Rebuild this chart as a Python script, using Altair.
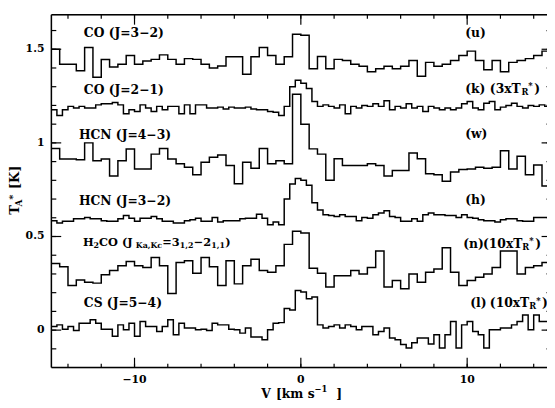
import altair as alt
import numpy as np
import pandas as pd

V_START = -15.0

# channel values (K), channel width 0.5 km/s
CO32 = [1.50, 1.42, 1.42, 1.385, 1.51, 1.35, 1.445, 1.405, 1.42, 1.467,
        1.42, 1.437, 1.446, 1.47, 1.446, 1.42, 1.45, 1.446, 1.42, 1.40,
        1.41, 1.46, 1.46, 1.366, 1.46, 1.51, 1.467, 1.42, 1.46, 1.58,
        1.575, 1.396, 1.461, 1.396, 1.446, 1.44, 1.42, 1.409, 1.38, 1.396,
        1.409, 1.396, 1.409, 1.44, 1.356, 1.43, 1.409, 1.42, 1.44, 1.467,
        1.49, 1.44, 1.39, 1.44, 1.38, 1.43, 1.44, 1.45, 1.467, 1.49]

HCN43 = [0.97, 0.914, 0.914, 0.91, 1.0, 0.905, 0.914, 0.823, 0.905, 0.967,
         0.86, 0.86, 0.94, 0.97, 0.914, 0.888, 0.87, 0.83, 0.896, 0.923,
         0.935, 0.879, 0.782, 0.896, 0.865, 0.97, 0.888, 0.905, 0.888, 1.26,
         1.10, 0.968, 0.94, 0.80, 0.915, 0.879, 0.879, 0.879, 0.888, 0.879,
         0.823, 0.853, 0.853, 0.946, 0.915, 0.835, 0.83, 0.795, 0.844, 0.858,
         0.86, 0.87, 0.865, 0.87, 0.958, 0.86, 0.928, 0.83, 0.882, 0.77]

H2CO = [0.356, 0.339, 0.238, 0.268, 0.256, 0.251, 0.296, 0.318, 0.344, 0.367,
        0.344, 0.335, 0.388, 0.344, 0.195, 0.361, 0.37, 0.304, 0.388, 0.339,
        0.238, 0.37, 0.247, 0.344, 0.379, 0.318, 0.309, 0.344, 0.458, 0.528,
        0.519, 0.33, 0.304, 0.23, 0.291, 0.291, 0.318, 0.30, 0.335, 0.423,
        0.23, 0.265, 0.221, 0.30, 0.256, 0.309, 0.326, 0.44, 0.309, 0.238,
        0.265, 0.282, 0.30, 0.335, 0.423, 0.423, 0.30, 0.335, 0.344, 0.361]

# channel width 1/3 km/s
CO21 = [1.177, 1.146, 1.177, 1.195, 1.186, 1.195, 1.186, 1.186, 1.203, 1.209,
        1.209, 1.216, 1.203, 1.156, 1.177, 1.168, 1.203, 1.186, 1.168, 1.195,
        1.177, 1.195, 1.195, 1.156, 1.203, 1.156, 1.203, 1.203, 1.186, 1.186,
        1.191, 1.181, 1.191, 1.186, 1.186, 1.191, 1.181, 1.177, 1.177, 1.168,
        1.163, 1.146, 1.195, 1.30, 1.335,
        1.318, 1.29, 1.221, 1.195, 1.203, 1.195, 1.186, 1.203, 1.156, 1.195,
        1.186, 1.20, 1.195, 1.209, 1.195, 1.225, 1.177, 1.195, 1.186, 1.209,
        1.186, 1.195, 1.168, 1.195, 1.186, 1.177, 1.186, 1.177, 1.186, 1.209,
        1.221, 1.186, 1.177, 1.212, 1.221, 1.177, 1.191, 1.20, 1.212, 1.195,
        1.186, 1.20, 1.195, 1.203, 1.195]

HCN32 = [0.584, 0.572, 0.581, 0.581, 0.595, 0.595, 0.602, 0.595, 0.595, 0.584,
         0.581, 0.581, 0.595, 0.612, 0.598, 0.581, 0.598, 0.598, 0.607, 0.595,
         0.581, 0.581, 0.572, 0.572, 0.584, 0.589, 0.598, 0.581, 0.581, 0.602,
         0.577, 0.584, 0.584, 0.584, 0.595, 0.598, 0.598, 0.619, 0.598, 0.563,
         0.577, 0.563, 0.70, 0.78, 0.81,
         0.80, 0.774, 0.68, 0.642, 0.616, 0.612, 0.607, 0.616, 0.607, 0.607,
         0.584, 0.602, 0.598, 0.616, 0.625, 0.637, 0.607, 0.602, 0.581, 0.581,
         0.595, 0.581, 0.616, 0.625, 0.616, 0.616, 0.612, 0.612, 0.602, 0.616,
         0.602, 0.598, 0.589, 0.584, 0.584, 0.577, 0.589, 0.595, 0.595, 0.584,
         0.581, 0.581, 0.602, 0.602, 0.602]

CS54 = [0.019, 0.028, 0.005, 0.019, -0.002, 0.037, 0.037, 0.055, 0.037, 0.005,
        0.005, -0.033, 0.028, 0.002, 0.037, -0.033, 0.046, 0.019, 0.019, -0.007,
        0.019, 0.055, -0.025, 0.037, 0.011, 0.011, 0.002, 0.005, -0.002, 0.037,
        0.028, 0.028, 0.005, 0.002, -0.016, 0.011, -0.037, -0.037, -0.051, 0.002,
        0.037, 0.04, 0.116, 0.107, 0.212,
        0.203, 0.168, 0.177, 0.028, 0.011, 0.019, 0.028, 0.011, 0.028, 0.019,
        0.002, 0.019, 0.019, -0.025, -0.007, 0.011, -0.042, -0.051, -0.077, -0.095,
        -0.068, -0.042, -0.042, -0.074, -0.025, -0.095, -0.025, 0.046, -0.095, 0.028,
        0.046, -0.007, -0.025, -0.095, 0.002, 0.002, 0.011, 0.011, 0.028, 0.046,
        0.081, 0.002, 0.081, 0.046, 0.046]

SERIES = [("CO32", CO32, 0.5), ("CO21", CO21, 1 / 3), ("HCN43", HCN43, 0.5),
          ("HCN32", HCN32, 1 / 3), ("H2CO", H2CO, 0.5), ("CS54", CS54, 1 / 3)]

X_MAJOR = [-10, 0, 10]
X_LABELS = ["\u221210", "0", "10"]
X_MINOR = list(range(-14, 15, 2))
Y_MAJOR = [0, 0.5, 1, 1.5]
Y_LABELS = ["0", "0.5", "1", "1.5"]
Y_MINOR = [round(-0.1 + 0.1 * i, 1) for i in range(18)]


def step_frame(name, values, width):
    edges = V_START + width * np.arange(len(values) + 1)
    vals = list(values) + [values[-1]]
    return pd.DataFrame({"v": edges, "t": vals, "line": name})


df = pd.concat([step_frame(n, v, w) for n, v, w in SERIES], ignore_index=True)

W, H = 503, 358
OX, OY = 52, 12  # page position of plot origin
FONT = "DejaVu Serif"

xs = alt.Scale(domain=[-15, 14.8], nice=False, zero=False)
ys = alt.Scale(domain=[-0.2, 1.684], nice=False, zero=False)

lines = alt.Chart(df).mark_line(
    interpolate="step-after", color="black", strokeWidth=1.5, clip=True
).encode(
    x=alt.X("v:Q", scale=xs, axis=None),
    y=alt.Y("t:Q", scale=ys, axis=None),
    detail="line:N",
)

layers = [lines]
one = pd.DataFrame({"a": [0]})

# frame: top, left, bottom
for enc in [dict(x=alt.value(0), x2=alt.value(W), y=alt.value(0)),
            dict(x=alt.value(0), x2=alt.value(W), y=alt.value(H)),
            dict(x=alt.value(0), y=alt.value(0), y2=alt.value(H))]:
    layers.append(alt.Chart(one).mark_rule(color="black", strokeWidth=1.5).encode(**enc))


def xticks(vals, length):
    d = pd.DataFrame({"v": vals})
    bottom = alt.Chart(d).mark_rule(color="black", strokeWidth=1.2).encode(
        x=alt.X("v:Q", scale=xs, axis=None), y=alt.value(H), y2=alt.value(H - length))
    top = alt.Chart(d).mark_rule(color="black", strokeWidth=1.2).encode(
        x=alt.X("v:Q", scale=xs, axis=None), y=alt.value(0), y2=alt.value(length))
    return [bottom, top]


def yticks(vals, length):
    d = pd.DataFrame({"t": vals})
    left = alt.Chart(d).mark_rule(color="black", strokeWidth=1.2).encode(
        y=alt.Y("t:Q", scale=ys, axis=None), x=alt.value(0), x2=alt.value(length))
    right = alt.Chart(d).mark_rule(color="black", strokeWidth=1.2).encode(
        y=alt.Y("t:Q", scale=ys, axis=None), x=alt.value(W + 4.5),
        x2=alt.value(W + 4.5 - length))
    return [left, right]


layers += xticks(X_MINOR, 4) + xticks(X_MAJOR, 10)
layers += yticks(Y_MINOR, 5) + yticks(Y_MAJOR, 10)

# tick labels
layers.append(alt.Chart(pd.DataFrame({"v": X_MAJOR, "lab": X_LABELS})).mark_text(
    font=FONT, fontWeight="bold", fontSize=11, color="black",
    align="center", baseline="middle").encode(
    x=alt.X("v:Q", scale=xs, axis=None), y=alt.value(H + 13), text="lab:N"))
layers.append(alt.Chart(pd.DataFrame({"t": Y_MAJOR, "lab": Y_LABELS})).mark_text(
    font=FONT, fontWeight="bold", fontSize=11, color="black",
    align="right", baseline="middle").encode(
    y=alt.Y("t:Q", scale=ys, axis=None), x=alt.value(-7), text="lab:N"))

# annotations: (text, page x, page y, size)
MAIN, SUB = 12.5, 8.5
HM, HS = 11.5, 8
ANNOT = [
    ("CO  (J=3\u22122)", 85, 31, MAIN),
    ("CO  (J=2\u22121)", 85, 88, MAIN),
    ("HCN  (J=4\u22123)", 80, 134, MAIN),
    ("HCN  (J=3\u22122)", 80, 201, MAIN),
    ("H", 84, 244, HM), ("2", 94.8, 247, HS), ("CO  (J", 100.4, 244, HM),
    ("Ka,Kc", 137.7, 247, HS), ("=3", 164.6, 244, HM), ("1,2", 182.3, 247, HS),
    ("\u22122", 196.5, 244, HM), ("1,1", 214.2, 247, HS), (")", 228.4, 244, HM),
    ("CS  (J=5\u22124)", 85, 305, MAIN),
    ("(u)", 472, 31, MAIN),
    ("(k)", 472, 87, MAIN), ("(3xT", 497, 87, MAIN), ("R", 529, 90, SUB),
    ("*", 536, 84, SUB), (")", 542, 87, MAIN),
    ("(w)", 472, 133, MAIN),
    ("(h)", 472, 200, MAIN),
    ("(n)", 470, 245, MAIN), ("(10xT", 490, 245, MAIN), ("R", 530, 248, SUB),
    ("*", 537, 242, SUB), (")", 543, 245, MAIN),
    ("(l)", 477, 305, MAIN), ("(10xT", 497, 305, MAIN), ("R", 537, 308, SUB),
    ("*", 544, 302, SUB), (")", 550, 305, MAIN),
    # x-axis title pieces
    ("V", 265, 397, MAIN), ("[km s", 280, 397, MAIN), ("\u22121", 319, 392, SUB),
    ("]", 341, 397, MAIN),
]

for txt, px, py, size in ANNOT:
    layers.append(alt.Chart(one).mark_text(
        font=FONT, fontWeight="bold", fontSize=size, color="black",
        align="left", baseline="middle").encode(
        x=alt.value(px - OX), y=alt.value(py - OY), text=alt.value(txt)))

# rotated y-axis title pieces
YT = [("T", 15, 210, 13), ("A", 19, 203, 9), ("*", 13.5, 197, 10), ("[K]", 15, 177, 13)]
for txt, px, py, size in YT:
    layers.append(alt.Chart(one).mark_text(
        font=FONT, fontWeight="bold", fontSize=size, color="black",
        align="center", baseline="middle", angle=270).encode(
        x=alt.value(px - OX), y=alt.value(py - OY), text=alt.value(txt)))

chart = alt.layer(*layers).properties(
    width=W, height=H,
    autosize=alt.AutoSizeParams(type="none"),
    padding={"left": 44, "top": 4, "right": 0, "bottom": 30},
).configure_view(stroke=None).configure(background="white")

chart.save("out.html", embed_options={"renderer": "svg", "actions": False})
